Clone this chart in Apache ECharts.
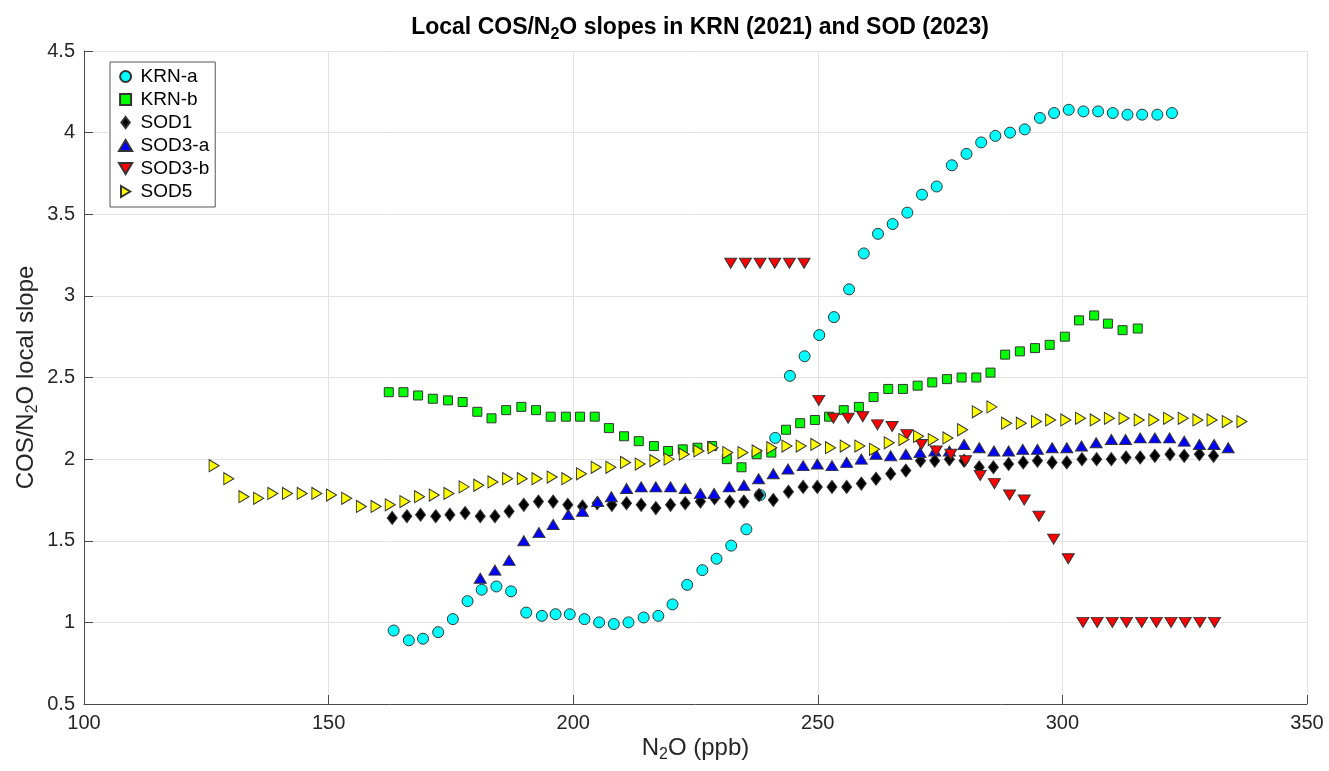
<!DOCTYPE html>
<html>
<head>
<meta charset="utf-8">
<title>Local COS/N2O slopes</title>
<script src="https://cdn.jsdelivr.net/npm/echarts@6/dist/echarts.min.js"></script>
<style>
  html, body { margin: 0; padding: 0; background: #fff; }
  #chart { width: 1329px; height: 771px; }
</style>
</head>
<body>
<div id="chart"></div>
<script>
// values
const krnaX = [163.3, 166.4, 169.3, 172.4, 175.4, 178.4, 181.3, 184.3, 187.3, 190.4, 193.6, 196.4, 199.3, 202.3, 205.3, 208.3, 211.3, 214.4, 217.4, 220.3, 223.3, 226.4, 229.3, 232.3, 235.4, 238.2, 241.3, 244.3, 247.3, 250.3, 253.3, 256.4, 259.4, 262.3, 265.3, 268.3, 271.3, 274.3, 277.4, 280.4, 283.4, 286.3, 289.3, 292.3, 295.4, 298.3, 301.3, 304.3, 307.3, 310.3, 313.3, 316.3, 319.4, 322.4];
const krnaY = [0.95, 0.89, 0.90, 0.94, 1.02, 1.13, 1.20, 1.22, 1.19, 1.06, 1.04, 1.05, 1.05, 1.02, 1.00, 0.99, 1.00, 1.03, 1.04, 1.11, 1.23, 1.32, 1.39, 1.47, 1.57, 1.78, 2.13, 2.51, 2.63, 2.76, 2.87, 3.04, 3.26, 3.38, 3.44, 3.51, 3.62, 3.67, 3.80, 3.87, 3.94, 3.98, 4.00, 4.02, 4.09, 4.12, 4.14, 4.13, 4.13, 4.12, 4.11, 4.11, 4.11, 4.12];

const krnbX = [162.3, 165.3, 168.3, 171.3, 174.4, 177.4, 180.4, 183.3, 186.3, 189.4, 192.4, 195.4, 198.5, 201.4, 204.4, 207.3, 210.4, 213.4, 216.5, 219.4, 222.4, 225.4, 228.4, 231.4, 234.4, 237.5, 240.5, 243.5, 246.4, 249.4, 252.3, 255.3, 258.4, 261.4, 264.4, 267.4, 270.4, 273.4, 276.4, 279.4, 282.4, 285.3, 288.3, 291.3, 294.4, 297.4, 300.5, 303.4, 306.5, 309.3, 312.3, 315.4];
const krnbY = [2.41, 2.41, 2.39, 2.37, 2.36, 2.35, 2.29, 2.25, 2.30, 2.32, 2.30, 2.26, 2.26, 2.26, 2.26, 2.19, 2.14, 2.11, 2.08, 2.05, 2.06, 2.07, 2.08, 2.00, 1.95, 2.03, 2.04, 2.18, 2.22, 2.24, 2.26, 2.30, 2.32, 2.38, 2.43, 2.43, 2.45, 2.47, 2.49, 2.50, 2.50, 2.53, 2.64, 2.66, 2.68, 2.70, 2.75, 2.85, 2.88, 2.83, 2.79, 2.80];

const sod1X = [163.0, 166.0, 168.8, 171.9, 174.8, 177.9, 181.0, 184.0, 186.9, 189.9, 192.9, 195.9, 198.9, 201.9, 204.9, 207.9, 210.9, 213.9, 216.9, 219.9, 222.9, 226.0, 228.9, 232.0, 234.9, 238.0, 240.9, 244.0, 247.0, 249.9, 252.9, 255.9, 258.9, 261.9, 264.9, 268.0, 271.0, 273.9, 276.9, 279.9, 283.0, 285.9, 289.0, 292.0, 294.9, 297.9, 300.9, 304.0, 307.0, 310.0, 313.0, 315.9, 318.9, 322.0, 324.9, 328.0, 330.9];
const sod1Y = [1.64, 1.65, 1.66, 1.65, 1.66, 1.67, 1.65, 1.65, 1.68, 1.72, 1.74, 1.74, 1.72, 1.71, 1.73, 1.72, 1.73, 1.72, 1.70, 1.72, 1.73, 1.74, 1.76, 1.74, 1.74, 1.78, 1.75, 1.80, 1.83, 1.83, 1.83, 1.83, 1.85, 1.88, 1.91, 1.93, 1.99, 1.99, 2.00, 1.99, 1.95, 1.95, 1.97, 1.98, 1.99, 1.98, 1.98, 2.00, 2.00, 2.00, 2.01, 2.01, 2.02, 2.03, 2.02, 2.03, 2.02];

const sod3aX = [181.0, 184.0, 186.9, 189.9, 193.0, 195.9, 199.0, 201.9, 205.0, 207.8, 210.9, 213.9, 216.9, 219.9, 222.9, 226.0, 228.8, 231.9, 234.9, 237.9, 240.9, 243.9, 247.0, 249.9, 252.9, 255.9, 258.9, 261.9, 264.9, 268.0, 270.9, 273.9, 276.9, 279.9, 283.0, 286.0, 289.0, 291.9, 294.9, 297.9, 300.9, 303.9, 306.9, 310.0, 312.9, 315.9, 318.9, 321.9, 324.9, 328.0, 331.0, 333.9];
const sod3aY = [1.27, 1.32, 1.38, 1.50, 1.55, 1.60, 1.66, 1.68, 1.74, 1.77, 1.82, 1.83, 1.83, 1.83, 1.82, 1.79, 1.79, 1.83, 1.84, 1.88, 1.91, 1.94, 1.96, 1.97, 1.96, 1.98, 2.00, 2.03, 2.02, 2.03, 2.04, 2.05, 2.05, 2.09, 2.07, 2.05, 2.05, 2.06, 2.06, 2.07, 2.07, 2.08, 2.10, 2.12, 2.12, 2.13, 2.13, 2.13, 2.11, 2.09, 2.09, 2.07];

const sod3bX = [232.2, 235.2, 238.2, 241.2, 244.2, 247.2, 250.2, 253.2, 256.2, 259.2, 262.2, 265.2, 268.2, 271.2, 274.2, 277.2, 280.2, 283.2, 286.1, 289.2, 292.2, 295.2, 298.2, 301.2, 304.2, 307.1, 310.2, 313.1, 316.2, 319.2, 322.2, 325.1, 328.1, 331.1];
const sod3bY = [3.20, 3.20, 3.20, 3.20, 3.20, 3.20, 2.36, 2.25, 2.25, 2.26, 2.21, 2.20, 2.15, 2.09, 2.05, 2.03, 1.99, 1.90, 1.85, 1.78, 1.75, 1.65, 1.51, 1.39, 1.00, 1.00, 1.00, 1.00, 1.00, 1.00, 1.00, 1.00, 1.00, 1.00];

const sod5X = [126.6, 129.6, 132.7, 135.7, 138.6, 141.6, 144.6, 147.6, 150.6, 153.7, 156.7, 159.7, 162.6, 165.6, 168.6, 171.6, 174.6, 177.7, 180.7, 183.6, 186.6, 189.6, 192.6, 195.7, 198.7, 201.7, 204.7, 207.7, 210.7, 213.7, 216.7, 219.6, 222.7, 225.7, 228.6, 231.6, 234.7, 237.6, 240.6, 243.7, 246.6, 249.6, 252.6, 255.6, 258.6, 261.6, 264.6, 267.6, 270.6, 273.6, 276.6, 279.6, 282.6, 285.6, 288.6, 291.6, 294.7, 297.6, 300.7, 303.7, 306.7, 309.6, 312.6, 315.7, 318.7, 321.7, 324.7, 327.7, 330.6, 333.7, 336.7];
const sod5Y = [1.96, 1.88, 1.77, 1.76, 1.79, 1.79, 1.79, 1.79, 1.78, 1.76, 1.71, 1.71, 1.72, 1.74, 1.77, 1.78, 1.79, 1.83, 1.84, 1.86, 1.88, 1.88, 1.88, 1.89, 1.88, 1.91, 1.95, 1.95, 1.98, 1.97, 1.99, 2.00, 2.03, 2.05, 2.07, 2.04, 2.04, 2.05, 2.07, 2.08, 2.08, 2.09, 2.07, 2.08, 2.08, 2.06, 2.10, 2.12, 2.14, 2.12, 2.13, 2.18, 2.29, 2.32, 2.22, 2.22, 2.23, 2.24, 2.24, 2.25, 2.24, 2.25, 2.25, 2.24, 2.24, 2.25, 2.25, 2.24, 2.24, 2.23, 2.23];

const font = '"Liberation Sans", Arial, Helvetica, sans-serif';

// legend icons (the legend does not pick up the symbol rotation)
const icons = {
    'KRN-a': 'circle',
    'KRN-b': 'path://M0,0H10V10H0Z',
    'SOD1': 'path://M5,0L10,6.5L5,13L0,6.5Z',
    'SOD3-a': 'path://M6,0L12,10L0,10Z',
    'SOD3-b': 'path://M0,0L12,0L6,10Z',
    'SOD5': 'path://M0,0L10,6L0,12Z'
};

function pairs(xs, ys) {
    return xs.map((x, i) => [x, ys[i]]);
}

function dots(name, xs, ys, symbol, size, color, rotate) {
    return {
        name: name,
        type: 'scatter',
        symbol: symbol,
        symbolSize: size,
        symbolRotate: rotate || 0,
        itemStyle: {color: color, borderColor: '#333', borderWidth: 1, opacity: 1},
        emphasis: {disabled: true},
        data: pairs(xs, ys)
    };
}

function axis(name, min, max, interval, gap) {
    return {
        type: 'value',
        min: min,
        max: max,
        interval: interval,
        name: name,
        nameLocation: 'middle',
        nameGap: gap,
        nameMoveOverlap: false,
        nameTextStyle: {
            fontSize: 24,
            color: '#262626',
            fontFamily: font,
            rich: {sub: {fontSize: 16, color: '#262626', fontFamily: font, padding: [14, 0, 0, 0]}}
        },
        axisLine: {show: true, onZero: false, lineStyle: {color: '#4a4a4a', width: 1}},
        axisTick: {show: true, inside: true, length: 9, lineStyle: {color: '#4a4a4a'}},
        axisLabel: {fontSize: 20, color: '#262626', fontFamily: font, margin: 9},
        splitLine: {show: true, lineStyle: {color: '#e3e3e3', width: 1}}
    };
}

const chart = echarts.init(document.getElementById('chart'));
chart.setOption({
    animation: false,
    backgroundColor: '#fff',
    title: {
        text: 'Local COS/N{sub|2}O slopes in KRN (2021) and SOD (2023)',
        left: 695,
        textAlign: 'center',
        top: 8,
        textStyle: {
            fontSize: 23,
            fontWeight: 'bold',
            color: '#000',
            fontFamily: font,
            rich: {sub: {fontSize: 16, fontWeight: 'bold', color: '#000', fontFamily: font, padding: [14, 0, 0, 0]}}
        }
    },
    grid: {left: 84, right: 22, top: 51, bottom: 67, containLabel: false},
    legend: {
        orient: 'vertical',
        left: 110,
        top: 62,
        padding: [5, 6, 6, 8],
        itemGap: 4,
        itemWidth: 14,
        itemHeight: 11,
        symbolRotate: 0,
        borderColor: '#555',
        borderWidth: 1,
        backgroundColor: '#fff',
        textStyle: {fontSize: 19, color: '#000', fontFamily: font, padding: [0, 0, 0, 3]},
        data: Object.keys(icons).map(n => ({name: n, icon: icons[n]}))
    },
    xAxis: axis('N{sub|2}O (ppb)', 100, 350, 50, 29),
    yAxis: axis('COS/N{sub|2}O local slope', 0.5, 4.5, 0.5, 43),
    series: [
        dots('KRN-a', krnaX, krnaY, 'circle', 11, '#00ffff'),
        dots('KRN-b', krnbX, krnbY, 'rect', 9, '#00ff00'),
        dots('SOD1', sod1X, sod1Y, 'diamond', [10, 13], '#000000'),
        dots('SOD3-a', sod3aX, sod3aY, 'triangle', [12, 10], '#0000ff'),
        dots('SOD3-b', sod3bX, sod3bY, 'triangle', [12, 10], '#ff0000', 180),
        dots('SOD5', sod5X, sod5Y, 'triangle', [12, 10], '#ffff00', -90)
    ]
});
</script>
</body>
</html>
